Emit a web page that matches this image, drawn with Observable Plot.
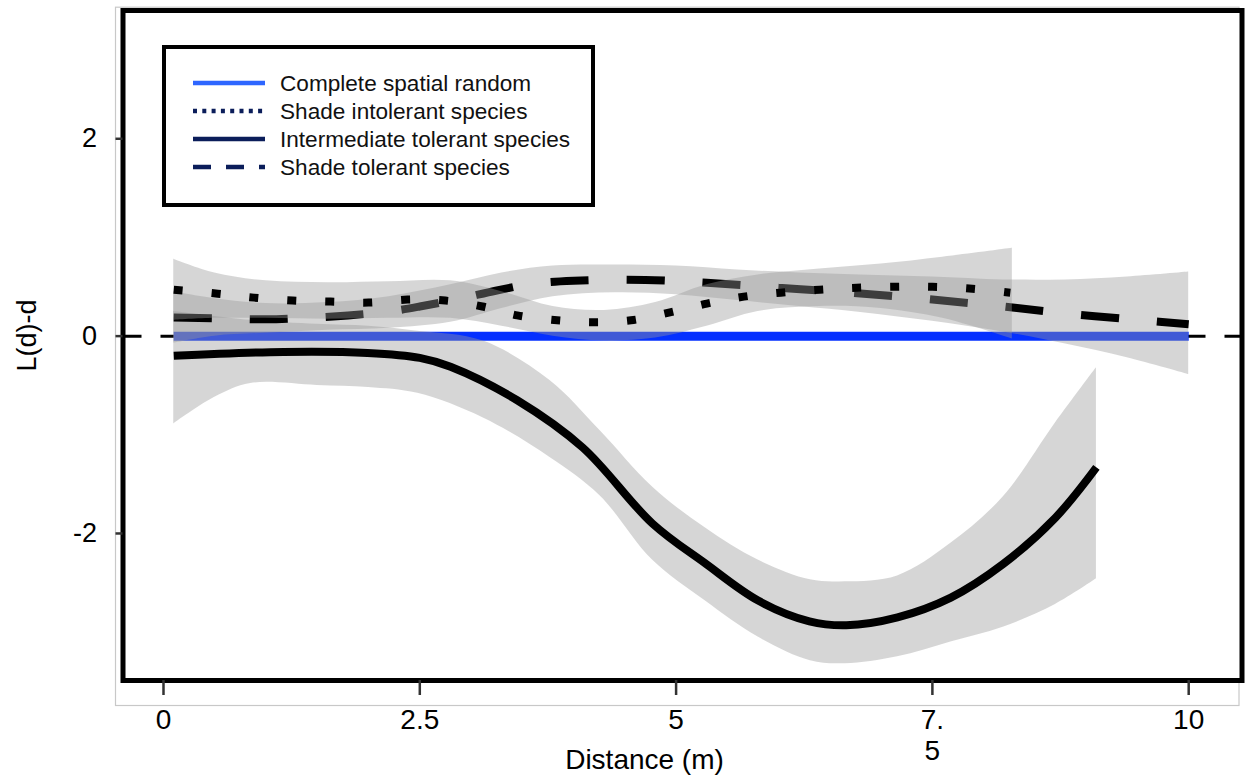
<!DOCTYPE html>
<html><head><meta charset="utf-8">
<script src="https://cdn.jsdelivr.net/npm/d3@7"></script>
<script src="https://cdn.jsdelivr.net/npm/@observablehq/plot@0.6"></script>
<style>
body{margin:0;background:#fff}
#wrap{position:relative;width:1246px;height:781px}
#wrap svg{position:absolute;left:0;top:0}
</style>
</head><body><div id="wrap"></div><script>
// ---- data ----
const distTicks = [0, 2.5, 5, 7.5, 10];
const lTicks = [-2, 0, 2];

const csrX = [0.1, 10];
const csrY = [0, 0];

// Intermediate tolerant species (solid)
const intermediateX = [0.10,1.17,1.99,2.50,2.80,3.45,4.09,4.77,5.28,5.80,6.30,6.66,7.16,7.68,8.19,8.70,9.10];
const intermediateY = [-0.20,-0.16,-0.17,-0.22,-0.31,-0.65,-1.13,-1.90,-2.30,-2.68,-2.89,-2.93,-2.85,-2.65,-2.31,-1.84,-1.33];
const intermediateBandX  = [0.10,0.50,0.85,1.50,2.00,2.48,3.12,3.77,4.26,4.77,5.28,5.80,6.31,6.65,7.16,7.68,8.19,8.70,9.10];
const intermediateBandLo = [-0.89,-0.62,-0.48,-0.50,-0.52,-0.58,-0.83,-1.23,-1.62,-2.27,-2.68,-3.05,-3.29,-3.32,-3.25,-3.10,-2.95,-2.72,-2.46];
const intermediateBandHi = [0.25,0.20,0.16,0.12,0.10,0.05,-0.05,-0.45,-0.96,-1.53,-1.94,-2.27,-2.47,-2.49,-2.43,-2.10,-1.63,-0.88,-0.32];

// Shade tolerant species (dashed)
const tolerantX = [0.10,0.50,1.00,1.50,1.80,2.20,2.50,2.90,3.24,3.60,4.00,4.70,5.30,6.00,6.70,7.40,8.10,8.80,9.55,10.0];
const tolerantY = [0.19,0.18,0.17,0.19,0.21,0.25,0.30,0.38,0.46,0.53,0.56,0.57,0.54,0.49,0.44,0.38,0.31,0.23,0.16,0.12];
const tolerantBandX  = [0.10,0.50,1.00,1.60,2.20,2.80,3.30,3.80,4.40,5.00,5.60,6.20,6.80,7.50,8.20,8.80,9.40,10.0];
const tolerantBandLo = [-0.07,0.00,0.03,0.06,0.08,0.14,0.28,0.40,0.44,0.42,0.36,0.30,0.24,0.15,0.04,-0.08,-0.22,-0.39];
const tolerantBandHi = [0.45,0.38,0.33,0.34,0.40,0.52,0.64,0.71,0.72,0.71,0.67,0.64,0.62,0.60,0.57,0.57,0.60,0.65];

// Shade intolerant species (dotted)
const intolerantX = [0.10,0.53,0.88,1.26,1.63,2.00,2.38,2.75,3.11,3.45,3.84,4.19,4.56,4.94,5.30,5.66,6.02,6.40,6.76,7.14,7.50,7.89,8.26];
const intolerantY = [0.47,0.43,0.39,0.36,0.35,0.34,0.37,0.36,0.30,0.21,0.16,0.14,0.16,0.24,0.33,0.40,0.44,0.47,0.49,0.50,0.50,0.48,0.44];
const intolerantBandX  = [0.10,0.50,1.00,1.60,2.20,2.80,3.30,3.80,4.30,4.80,5.30,5.80,6.40,7.00,7.60,8.28];
const intolerantBandLo = [0.16,0.18,0.18,0.17,0.18,0.18,0.10,0.00,-0.05,-0.02,0.10,0.25,0.30,0.28,0.18,-0.03];
const intolerantBandHi = [0.78,0.64,0.56,0.54,0.55,0.56,0.45,0.30,0.26,0.34,0.52,0.62,0.68,0.73,0.80,0.89];

const legendLabels = ["Complete spatial random","Shade intolerant species","Intermediate tolerant species","Shade tolerant species"];
const legendColors = ["#2e66ff","#0b1d5a","#0b1d5a","#0b1d5a"];
const legendDash = [null,"4,5.3",null,"18,15"];

// ---- build tables ----
const pts = (xs, ys) => xs.map((x, i) => ({x, y: ys[i]}));
const band = (xs, lo, hi) => xs.map((x, i) => ({x, lo: lo[i], hi: hi[i]}));
const csr = pts(csrX, csrY);
const intermediate = pts(intermediateX, intermediateY);
const tolerant = pts(tolerantX, tolerantY);
const intolerant = pts(intolerantX, intolerantY);
const intermediateBand = band(intermediateBandX, intermediateBandLo, intermediateBandHi);
const tolerantBand = band(tolerantBandX, tolerantBandLo, tolerantBandHi);
const intolerantBand = band(intolerantBandX, intolerantBandLo, intolerantBandHi);

const ribbon = {x: "x", y1: "lo", y2: "hi", fill: "#999999", fillOpacity: 0.4, curve: "catmull-rom"};
const lineOpts = {x: "x", y: "y", stroke: "black", strokeWidth: 8, curve: "catmull-rom", strokeLinecap: "butt"};

const chart = Plot.plot({
  width: 1246, height: 781,
  marginLeft: 122.5, marginRight: 4.5, marginTop: 10, marginBottom: 101,
  x: {domain: [-0.395, 10.52], label: null},
  y: {domain: [-3.49, 3.30], label: null},
  style: {fontFamily: "'Liberation Sans', Arial, sans-serif", background: "white", color: "black"},
  marks: [
    Plot.frame({stroke: "#c8c8c8", strokeWidth: 1.2, insetLeft: -7.5, insetTop: -3.3, insetRight: 3, insetBottom: -25}),
    Plot.frame({fill: "white"}),
    Plot.ruleY([0], {stroke: "black", strokeWidth: 3, strokeDasharray: "19,19"}),
    Plot.line(csr, {x: "x", y: "y", stroke: "#0530ff", strokeWidth: 9, strokeLinecap: "butt"}),
    Plot.areaY(intermediateBand, ribbon),
    Plot.line(intermediate, lineOpts),
    Plot.areaY(tolerantBand, ribbon),
    Plot.line(tolerant, {...lineOpts, strokeDasharray: "38,38"}),
    Plot.areaY(intolerantBand, ribbon),
    Plot.line(intolerant, {...lineOpts, strokeDasharray: "9,29"}),
    Plot.frame({stroke: "black", strokeWidth: 5}),
    Plot.axisX({ticks: distTicks, tickSize: 15, tickPadding: 12, fontSize: 28, stroke: "#333", strokeWidth: 2.5, fill: "black",
      lineHeight: 1.1, label: null, tickFormat: d => d === 7.5 ? "7.\n5" : String(d)}),
    Plot.axisY({ticks: lTicks, tickSize: 7, tickPadding: 19, fontSize: 27, stroke: "#333", strokeWidth: 2.5, fill: "black", label: null,
      tickFormat: d => (d < 0 ? "-" : "") + Math.abs(d)}),
    Plot.text(["Distance (m)"], {frameAnchor: "bottom", lineAnchor: "middle", textAnchor: "middle", dx: -38, dy: 80, fontSize: 28, fill: "black"}),
    Plot.text(["L(d)-d"], {frameAnchor: "left", textAnchor: "middle", lineAnchor: "middle", rotate: -90, dx: -96, dy: -10, fontSize: 27, fill: "black"})
  ]
});
document.getElementById("wrap").appendChild(chart);

// ---- legend overlay ----
const lg = d3.select("#wrap").append("svg").attr("width", 1246).attr("height", 781)
  .style("font-family", "'Liberation Sans', Arial, sans-serif");
lg.append("rect").attr("x", 164).attr("y", 47).attr("width", 429).attr("height", 158)
  .attr("fill", "white").attr("stroke", "black").attr("stroke-width", 4);
legendLabels.forEach((lab, i) => {
  const yy = 83 + i * 28;
  lg.append("line").attr("x1", 193).attr("x2", 265).attr("y1", yy).attr("y2", yy)
    .attr("stroke", legendColors[i]).attr("stroke-width", 4.5)
    .attr("stroke-dasharray", legendDash[i]);
  lg.append("text").attr("x", 280).attr("y", yy).attr("dy", "0.36em")
    .attr("font-size", 22.6).attr("fill", "#111").text(lab);
});
</script></body></html>
